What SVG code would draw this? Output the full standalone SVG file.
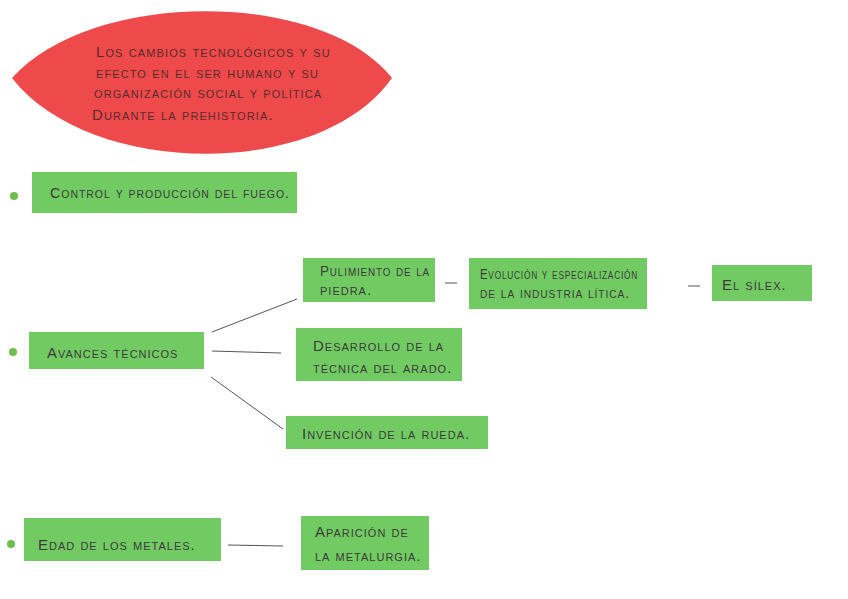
<svg xmlns="http://www.w3.org/2000/svg" width="848" height="599" viewBox="0 0 848 599">
<style>
.box{fill:#72cb62}
.bul{fill:#6cbf4c}
.t{font-family:"Liberation Sans",Arial,sans-serif;font-variant:small-caps;font-size:15px;fill:#3a3a3a;letter-spacing:1px}
.title{font-family:"Liberation Sans",Arial,sans-serif;font-variant:small-caps;font-size:15px;fill:#5a2a2a;letter-spacing:1.1px}
.ln{stroke:#555;stroke-width:1;fill:none}
</style>
<rect width="848" height="599" fill="#ffffff"/>
<g id="title">
<path d="M12,78 C90,-10 320,-12 392,78 C320,180 90,178 12,78 Z" fill="#ee4a4b"/>
<text class="title" x="96" y="57">Los cambios tecnológicos y su</text>
<text class="title" x="96" y="78">efecto en el ser humano y su</text>
<text class="title" x="94" y="98">organización social y política</text>
<text class="title" x="92" y="120">Durante la prehistoria.</text>
</g>
<g id="fuego">
<circle class="bul" cx="14" cy="196" r="4"/>
<rect class="box" x="32" y="172" width="265" height="41"/>
<text class="t" x="50" y="198" textLength="240" lengthAdjust="spacingAndGlyphs">Control y producción del fuego.</text>
</g>
<g id="avances">
<circle class="bul" cx="13" cy="352" r="4"/>
<rect class="box" x="29" y="332" width="175" height="37"/>
<text class="t" x="47" y="358">Avances técnicos</text>
</g>
<g id="pulimiento">
<rect class="box" x="303" y="258" width="132" height="44"/>
<text class="t" x="320" y="276" font-size="14" letter-spacing="0.5" textLength="110" lengthAdjust="spacingAndGlyphs">Pulimiento de la</text>
<text class="t" x="320" y="295" font-size="14" letter-spacing="0.5">piedra.</text>
</g>
<g id="evolucion">
<rect class="box" x="469" y="258" width="178" height="51"/>
<text class="t" x="480" y="279" font-size="12.5" textLength="158" lengthAdjust="spacingAndGlyphs">Evolución y especialización</text>
<text class="t" x="480" y="298" font-size="12.5" textLength="150" lengthAdjust="spacingAndGlyphs">de la industria lítica.</text>
</g>
<g id="silex">
<rect class="box" x="712" y="265" width="100" height="36"/>
<text class="t" x="722" y="290" font-size="17">El sílex.</text>
</g>
<g id="desarrollo">
<rect class="box" x="296" y="328" width="166" height="53"/>
<text class="t" x="313" y="351">Desarrollo de la</text>
<text class="t" x="313" y="373">técnica del arado.</text>
</g>
<g id="invencion">
<rect class="box" x="286" y="416" width="202" height="33"/>
<text class="t" x="302" y="439">Invención de la rueda.</text>
</g>
<g id="metales">
<circle class="bul" cx="11" cy="544" r="4"/>
<rect class="box" x="24" y="518" width="197" height="43"/>
<text class="t" x="38" y="550">Edad de los metales.</text>
</g>
<g id="metalurgia">
<rect class="box" x="301" y="516" width="128" height="54"/>
<text class="t" x="315" y="537">Aparición de</text>
<text class="t" x="315" y="561">la metalurgia.</text>
</g>
<g id="connectors">
<line class="ln" x1="212" y1="332" x2="297" y2="299"/>
<line class="ln" x1="212" y1="351" x2="281" y2="353"/>
<line class="ln" x1="211" y1="377" x2="283" y2="429"/>
<line class="ln" x1="445" y1="283" x2="457" y2="283" stroke-width="1.5"/>
<line class="ln" x1="688" y1="286" x2="700" y2="286" stroke-width="1.5"/>
<line class="ln" x1="228" y1="545" x2="283" y2="546" stroke-width="1.8" stroke="#333"/>
</g>
</svg>
